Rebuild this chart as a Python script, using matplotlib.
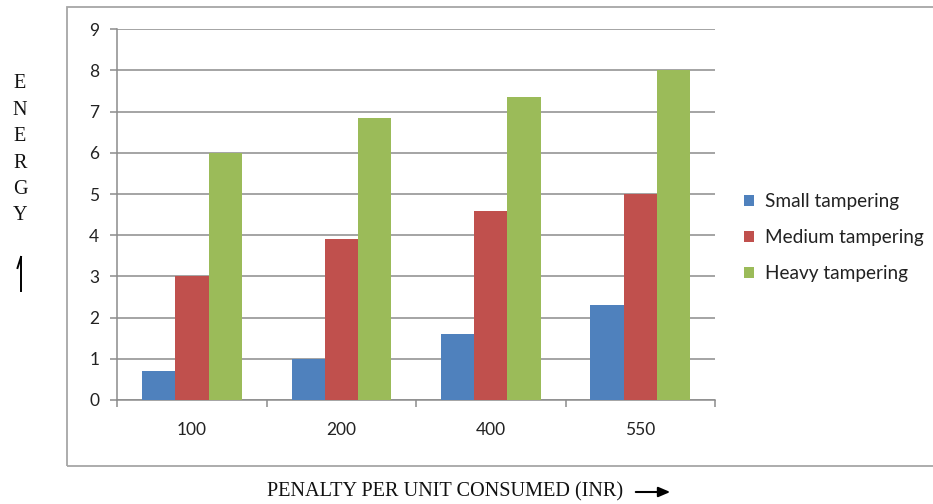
import matplotlib
matplotlib.use("Agg")
import matplotlib.pyplot as plt
from matplotlib.patches import Rectangle, FancyArrowPatch
from matplotlib.lines import Line2D
import numpy as np

categories = ["100", "200", "400", "550"]
series_names = ["Small tampering", "Medium tampering", "Heavy tampering"]
small = [0.7, 1.0, 1.6, 2.3]
medium = [3.0, 3.9, 4.6, 5.0]
heavy = [6.0, 6.85, 7.35, 8.0]
colors = ["#4F81BD", "#C0504D", "#9BBB59"]
y_ticks = list(range(0, 10))

W, H = 933, 504
fig = plt.figure(figsize=(W / 100, H / 100), dpi=100)
fig.patch.set_facecolor("white")

# outer chart frame
fig.patches.append(Rectangle((67 / W, 1 - 466 / H), (W + 5 - 67) / W, (466 - 7) / H,
                             transform=fig.transFigure, fill=False,
                             edgecolor="#A6A6A6", linewidth=1.3, clip_on=False))

ax = fig.add_axes([117.3 / W, 1 - 400 / H, (715 - 117.3) / W, (400 - 29.3) / H])
grey = "#8C8C8C"
x = np.arange(len(categories))
bw = 1 / 4.5
for i, (vals, name) in enumerate(zip([small, medium, heavy], series_names)):
    ax.bar(x + (i - 1) * bw, vals, width=bw, color=colors[i], label=name, zorder=3)

ax.set_xlim(-0.5, len(categories) - 0.5)
ax.set_ylim(0, 9)
ax.set_yticks(y_ticks)
ax.yaxis.grid(True, color=grey, linewidth=1.1, zorder=0)
for s in ["top", "right"]:
    ax.spines[s].set_visible(False)
for s in ["left", "bottom"]:
    ax.spines[s].set_color(grey)
    ax.spines[s].set_linewidth(1.1)

tick_font = dict(family="Lato", size=12.5, color="#222222")
ax.set_xticks(x)
ax.set_xticklabels(categories, fontdict=tick_font)
ax.set_xticks(np.arange(len(categories) + 1) - 0.5, minor=True)
ax.tick_params(axis="x", which="major", length=0, pad=16)
ax.tick_params(axis="x", which="minor", length=5, width=1.1, color=grey, direction="out")
ax.set_yticklabels([str(v) for v in y_ticks], fontdict=tick_font)
ax.tick_params(axis="y", length=5, width=1.1, color=grey, pad=8)

leg = ax.legend(loc="center left", bbox_to_anchor=(1.02, 0.438), frameon=False,
                prop=dict(family="Lato", size=13.7), handlelength=0.5, handleheight=0.5,
                handletextpad=0.6, labelspacing=1.0)
for t in leg.get_texts():
    t.set_color("#222222")

# vertical axis caption, one letter per line, with an upward harpoon
for k, ch in enumerate("ENERGY"):
    fig.text(20 / W, 1 - (84 + k * 26.4) / H, ch, family="Liberation Serif", size=14.5,
             ha="center", va="center", color="#111111")
fig.add_artist(Line2D([21 / W, 21 / W], [1 - 291 / H, 1 - 257 / H],
                      transform=fig.transFigure, color="black", linewidth=1.4))
fig.add_artist(Line2D([21 / W, 17.5 / W], [1 - 257 / H, 1 - 268 / H],
                      transform=fig.transFigure, color="black", linewidth=1.4))

# horizontal axis caption with arrow
fig.text(267 / W, 1 - 492 / H, "PENALTY PER UNIT CONSUMED (INR)", family="Liberation Serif",
         size=14.6, ha="left", va="center", color="#111111")
fig.add_artist(FancyArrowPatch((633 / W, 1 - 492 / H), (673 / W, 1 - 492 / H),
               transform=fig.transFigure, arrowstyle="-|>,head_length=7,head_width=3",
               color="black", linewidth=1.5, mutation_scale=1))

fig.savefig("out.png", dpi=100, facecolor="white")
